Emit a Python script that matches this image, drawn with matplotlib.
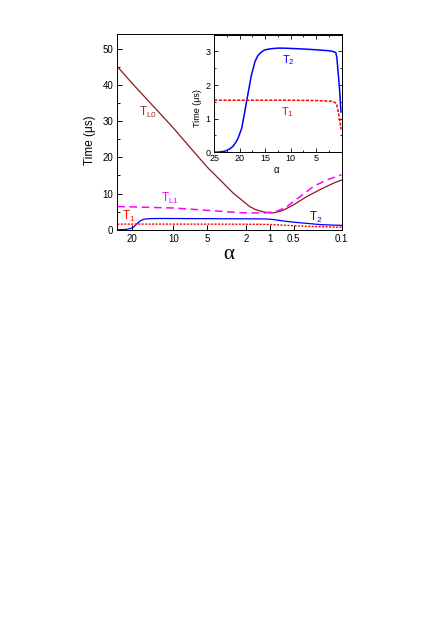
import numpy as np
import matplotlib
matplotlib.use("Agg")
import matplotlib.pyplot as plt
from matplotlib.ticker import FixedLocator, FixedFormatter, MultipleLocator

plt.rcParams['font.family'] = ['Liberation Sans', 'DejaVu Sans']
plt.rcParams['mathtext.default'] = 'regular'

# ---- data ----
a_TL0 = [25, 20, 15, 10, 7, 5, 3.7, 2.7, 1.8, 1.5, 1.2, 0.95, 0.74, 0.6, 0.5, 0.32, 0.2, 0.13, 0.1]
TL0 = [45.1, 40.4, 35.3, 28.1, 22.5, 17.3, 13.8, 10.1, 6.4, 5.5, 4.9, 4.6, 5.1, 6.0, 6.9, 9.2, 11.2, 12.9, 13.7]

a_TL1 = [25, 20, 10, 5.8, 3.7, 2.3, 1.2, 0.82, 0.61, 0.4, 0.255, 0.162, 0.1]
TL1 = [6.4, 6.3, 6.0, 5.5, 5.1, 4.7, 4.6, 5.1, 6.4, 9.2, 12.0, 13.8, 15.2]

a_T2 = [25, 24, 23, 22.6, 22, 21.3, 20.8, 20.3, 19.6, 19.0, 18.3, 17.7, 17.0,
        16.5, 16.0, 15.5, 15.0, 14.0, 12.5, 11.5, 8.2, 4.9, 2.3, 1.4, 1.1,
        0.9, 0.65, 0.45, 0.3, 0.2, 0.1]
T2 = [0.0, 0.01, 0.03, 0.05, 0.1, 0.18, 0.29, 0.43, 0.72, 1.22, 1.81, 2.3, 2.7,
      2.86, 2.95, 3.01, 3.05, 3.08, 3.1, 3.1, 3.08, 3.05, 3.02, 2.99, 2.96,
      2.8, 2.35, 2.0, 1.7, 1.4, 1.2]

a_T1 = [25, 20, 10, 5, 2, 1.5, 1.0, 0.65, 0.3, 0.1]
T1 = [1.55, 1.55, 1.55, 1.54, 1.52, 1.5, 1.45, 1.22, 0.92, 0.68]

xticks = [20, 10, 5, 2, 1, 0.5, 0.1]
xticklabels = ['20', '10', '5', '2', '1', '0.5', '0.1']

# the alpha axis is not a plain log axis, warp taken from tick spacing
warp_a = np.log10([0.001, 0.1, 0.5, 1, 2, 5, 10, 20, 25, 1000])
warp_p = np.array([-136, 0, 47.7, 71, 95.3, 134, 167.7, 208.7, 223.7, 500])

def fwd(a):
    a = np.asarray(a, dtype=float)
    with np.errstate(divide='ignore', invalid='ignore'):
        la = np.log10(np.clip(a, 1e-3, 1e3))
    return np.interp(la, warp_a, warp_p)

def inv(p):
    return 10 ** np.interp(np.asarray(p, dtype=float), warp_p, warp_a)

c_L0 = '#8b1a1a'
c_L1 = '#ff00ff'
c_T2 = '#0000ff'
c_T1 = '#ff0000'

fig = plt.figure(figsize=(4.43, 6.33), dpi=100)

ax = fig.add_axes([0.2648, 0.6371, 0.5061, 0.3087])
ax.set_xscale('function', functions=(fwd, inv))
ax.plot(a_TL0, TL0, color=c_L0, lw=0.9)
ax.plot(a_TL1, TL1, color=c_L1, lw=1.1, ls=(0, (5, 3)))
ax.plot(a_T2, T2, color=c_T2, lw=0.9)
ax.plot(a_T1, T1, color=c_T1, lw=1.0, ls=(0, (1.5, 1)))
ax.set_xlim(25, 0.1)
ax.set_ylim(0, 54)
ax.xaxis.set_major_locator(FixedLocator(xticks))
ax.xaxis.set_major_formatter(FixedFormatter(xticklabels))
ax.xaxis.set_minor_locator(FixedLocator([]))
ax.yaxis.set_major_locator(MultipleLocator(10))
ax.yaxis.set_minor_locator(MultipleLocator(5))
ax.tick_params(which='both', direction='in', labelsize=7, width=0.7, pad=3)
ax.tick_params(which='major', length=3.5)
ax.tick_params(which='minor', length=2)
for s in ax.spines.values():
    s.set_linewidth(0.7)
ax.set_ylabel('Time (μs)', fontsize=8.5)
ax.yaxis.set_label_coords(-0.097, 0.46)
ax.set_xlabel('α', fontsize=15, family=['Liberation Serif', 'DejaVu Serif'])
ax.xaxis.set_label_coords(0.495, -0.08)

ax.text(0.137, 0.602, '$T_{L0}$', color='#a02828', fontsize=8.5, ha='center', va='center', transform=ax.transAxes)
ax.text(0.235, 0.162, '$T_{L1}$', color=c_L1, fontsize=8.5, ha='center', va='center', transform=ax.transAxes)
ax.text(0.05, 0.067, '$T_1$', color=c_T1, fontsize=8.5, ha='center', va='center', transform=ax.transAxes)
ax.text(0.885, 0.061, '$T_2$', color=c_T2, fontsize=8.5, ha='center', va='center', transform=ax.transAxes)

# inset, linear alpha
ins = fig.add_axes([0.4837, 0.7594, 0.2872, 0.1858])
ins.plot(a_T2, T2, color=c_T2, lw=1.1)
ins.plot(a_T1, T1, color=c_T1, lw=1.1, ls=(0, (2, 1)))
ins.set_xlim(25, 0)
ins.set_ylim(0, 3.5)
ins.xaxis.set_major_locator(FixedLocator([25, 20, 15, 10, 5]))
ins.xaxis.set_minor_locator(MultipleLocator(2.5))
ins.yaxis.set_major_locator(MultipleLocator(1))
ins.yaxis.set_minor_locator(MultipleLocator(0.5))
ins.tick_params(which='both', direction='in', labelsize=6.5, width=0.6,
                top=True, right=True)
ins.tick_params(axis='x', pad=1.5)
ins.tick_params(axis='y', pad=2.5)
ins.tick_params(which='major', length=3)
ins.tick_params(which='minor', length=1.7)
for s in ins.spines.values():
    s.set_linewidth(0.7)
ins.set_ylabel('Time (μs)', fontsize=6.5)
ins.yaxis.set_label_coords(-0.1, 0.377)
ins.set_xlabel('α', fontsize=7)
ins.xaxis.set_label_coords(0.49, -0.11)
ins.text(0.583, 0.785, '$T_2$', color=c_T2, fontsize=8, ha='center', va='center', transform=ins.transAxes)
ins.text(0.574, 0.34, '$T_1$', color=c_T1, fontsize=8, ha='center', va='center', transform=ins.transAxes)

fig.savefig('out.png', dpi=100)
